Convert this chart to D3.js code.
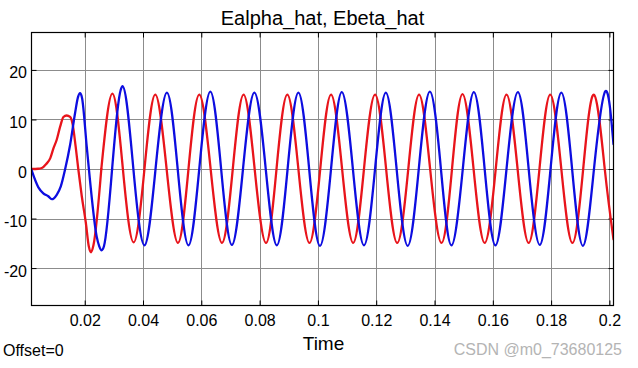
<!DOCTYPE html>
<html><head><meta charset="utf-8">
<script src="https://cdn.jsdelivr.net/npm/d3@7"></script>
<style>
html,body{margin:0;padding:0;background:#fff;}
svg{display:block;font-family:Arial,'Liberation Sans',sans-serif;}
</style></head>
<body>
<svg id="chart" width="638" height="368"></svg>
<script>
// ---- data ----
const titleText = "Ealpha_hat, Ebeta_hat";
const xLabelText = "Time";
const offsetText = "Offset=0";
const watermarkText = "CSDN @m0_73680125";

const xTicks = [0.02, 0.04, 0.06, 0.08, 0.1, 0.12, 0.14, 0.16, 0.18, 0.2];
const xTickLabels = ["0.02","0.04","0.06","0.08","0.1","0.12","0.14","0.16","0.18","0.2"];
const yTicks = [-20, -10, 0, 10, 20];
const yTickLabels = ["-20","-10","0","10","20"];
const xDomain = [0.00175, 0.2014];
const yDomain = [-27.55, 27.55];

// Ealpha_hat (red)
const redT = [0.00175,0.0040,0.0053,0.0068,0.0082,0.0093,0.0104,0.0116,0.0127,0.0138,0.0150,0.0159,0.0169,0.0178,0.0190,0.0204,0.0214,0.0222,0.0230,
  0.0257,0.0295,0.0331,0.0368,0.0405,0.0442,0.0481,0.0520,0.0556,0.0593,0.0632,0.0671,0.0708,0.0745,0.0783,0.0822,0.0858,0.0895,
  0.0933,0.0971,0.1008,0.1045,0.1083,0.1121,0.1158,0.1196,0.1234,0.1272,0.1310,0.1347,0.1385,0.1424,0.1460,0.1496,0.1534,0.1572,
  0.1610,0.1647,0.1685,0.1723,0.1760,0.1797,0.1835,0.1873,0.1910,0.1947,0.1984,0.2014];
const redV = [0,0.05,0.2,1.0,2.2,4.2,5.9,8.6,10.5,10.8,10.5,8.9,4.5,0,-5.5,-10.9,-15.6,-16.8,-15.4,
  0,15.2,0,-14.8,0,15.0,0,-14.9,0,15.0,0,-14.9,0,15.0,0,-14.9,0,15.0,
  0,-14.9,0,15.0,0,-14.9,0,15.0,0,-14.9,0,15.0,0,-14.9,0,15.1,0,-14.9,
  0,15.0,0,-14.9,0,15.0,0,-14.9,0,15.0,0,-14.2];

// Ebeta_hat (blue)
const blueT = [0.00175,0.0041,0.0058,0.0075,0.0087,0.0104,0.0118,0.0133,0.0150,0.0167,0.0177,0.0184,0.0191,0.0207,0.0218,0.0241,0.0250,0.0258,0.0266,
  0.0294,0.0330,0.0367,0.0405,0.0443,0.0482,0.0519,0.0556,0.0593,0.0631,0.0668,0.0705,0.0743,0.0782,0.0821,0.0859,0.0896,0.0933,
  0.0970,0.1007,0.1045,0.1082,0.1120,0.1158,0.1196,0.1233,0.1270,0.1308,0.1346,0.1384,0.1422,0.1458,0.1497,0.1535,0.1572,0.1609,
  0.1647,0.1686,0.1723,0.1761,0.1798,0.1835,0.1872,0.1909,0.1947,0.1986,0.2014];
const blueV = [-0.2,-3.7,-4.9,-5.5,-6.1,-5.2,-3.5,0,4.9,11.3,14.5,15.3,14.3,4.5,-2.2,-13.6,-15.6,-16.4,-15.6,
  0,16.7,0,-15.4,0,15.4,0,-15.4,0,15.6,0,-15.3,0,15.4,0,-15.4,0,15.4,
  0,-15.5,0,15.5,0,-15.4,0,15.4,0,-15.5,0,15.6,0,-15.4,0,15.5,0,-15.4,
  0,15.5,0,-15.3,0,15.4,0,-15.5,0,15.7,5.0];

// time where the start-up transient ends (first steady zero crossing)
const redSteadyFrom = 0.0257;
const blueSteadyFrom = 0.0294;

const seriesColors = ["#e8141b", "#0d0de0"];

// ---- drawing ----
const svg = d3.select("#chart");
const L = 31.5, R = 613.5, T = 32.5, B = 305.5;
const x = d3.scaleLinear().domain(xDomain).range([L, R]);
const y = d3.scaleLinear().domain(yDomain).range([B, T]);

// grid
const grid = svg.append("g").attr("stroke", "#8c8c8c").attr("stroke-width", 1);
grid.selectAll("line.v").data(xTicks).join("line").attr("class","v")
  .attr("x1", d => Math.round(x(d)) + 0.5).attr("x2", d => Math.round(x(d)) + 0.5)
  .attr("y1", T).attr("y2", B);
grid.selectAll("line.h").data(yTicks).join("line").attr("class","h")
  .attr("y1", d => Math.round(y(d)) + 0.5).attr("y2", d => Math.round(y(d)) + 0.5)
  .attr("x1", L).attr("x2", R);

// axes
const fmtX = d => xTickLabels[xTicks.indexOf(d)];
const fmtY = d => yTickLabels[yTicks.indexOf(d)];
function styleAxis(g, hideText) {
  g.select(".domain").remove();
  g.selectAll(".tick line").attr("stroke", "#000");
  g.selectAll(".tick text").attr("fill", "#000").style("font-size", "16px")
    .style("font-family", "Arial,'Liberation Sans',sans-serif");
  if (hideText) g.selectAll(".tick text").remove();
}
svg.append("g").attr("transform", `translate(0,${B})`)
  .call(d3.axisBottom(x).tickValues(xTicks).tickFormat(fmtX).tickSizeInner(-5).tickSizeOuter(0).tickPadding(9))
  .call(g => styleAxis(g, false));
svg.append("g").attr("transform", `translate(0,${T})`)
  .call(d3.axisTop(x).tickValues(xTicks).tickSizeInner(-5).tickSizeOuter(0))
  .call(g => styleAxis(g, true));
svg.append("g").attr("transform", `translate(${L},0)`)
  .call(d3.axisLeft(y).tickValues(yTicks).tickFormat(fmtY).tickSizeInner(-5).tickSizeOuter(0).tickPadding(4.5))
  .call(g => { styleAxis(g, false); g.selectAll(".tick text").attr("dy", "0.5em"); });
svg.append("g").attr("transform", `translate(${R},0)`)
  .call(d3.axisRight(y).tickValues(yTicks).tickSizeInner(-5).tickSizeOuter(0))
  .call(g => styleAxis(g, true));

// clip
svg.append("clipPath").attr("id", "clip").append("rect")
  .attr("x", L).attr("y", T).attr("width", R - L).attr("height", B - T);

const lineTransient = d3.line().x(d => x(d[0])).y(d => y(d[1])).curve(d3.curveMonotoneX);
const lineSteady = d3.line().x(d => x(d[0])).y(d => y(d[1])).curve(d3.curveNatural);

const pieces = [];
[[redT, redV, redSteadyFrom], [blueT, blueV, blueSteadyFrom]].forEach(([ts, vs, split], i) => {
  const pts = d3.zip(ts, vs);
  pieces.push({ d: lineTransient(pts.filter(p => p[0] <= split)), c: seriesColors[i] });
  pieces.push({ d: lineSteady(pts.filter(p => p[0] >= split)), c: seriesColors[i] });
});
svg.append("g").attr("clip-path", "url(#clip)")
  .selectAll("path").data(pieces).join("path")
  .attr("d", d => d.d).attr("fill", "none")
  .attr("stroke", d => d.c).attr("stroke-width", 2.3)
  .attr("stroke-linejoin", "round").attr("stroke-linecap", "round");

// frame
svg.append("rect").attr("x", L).attr("y", T).attr("width", R - L).attr("height", B - T)
  .attr("fill", "none").attr("stroke", "#000").attr("stroke-width", 1.2);

// texts
svg.append("text").attr("x", (L + R) / 2).attr("y", 25).attr("text-anchor", "middle")
  .style("font-size", "20px").attr("fill", "#000").text(titleText);
svg.append("text").attr("x", (L + R) / 2 + 1).attr("y", 350).attr("text-anchor", "middle")
  .style("font-size", "19px").attr("fill", "#000").text(xLabelText);
svg.append("text").attr("x", 3).attr("y", 356)
  .style("font-size", "16px").attr("fill", "#000").text(offsetText);
svg.append("text").attr("x", 622).attr("y", 355).attr("text-anchor", "end")
  .style("font-size", "16px").attr("fill", "#b4b4b4").text(watermarkText);
</script>
</body></html>
